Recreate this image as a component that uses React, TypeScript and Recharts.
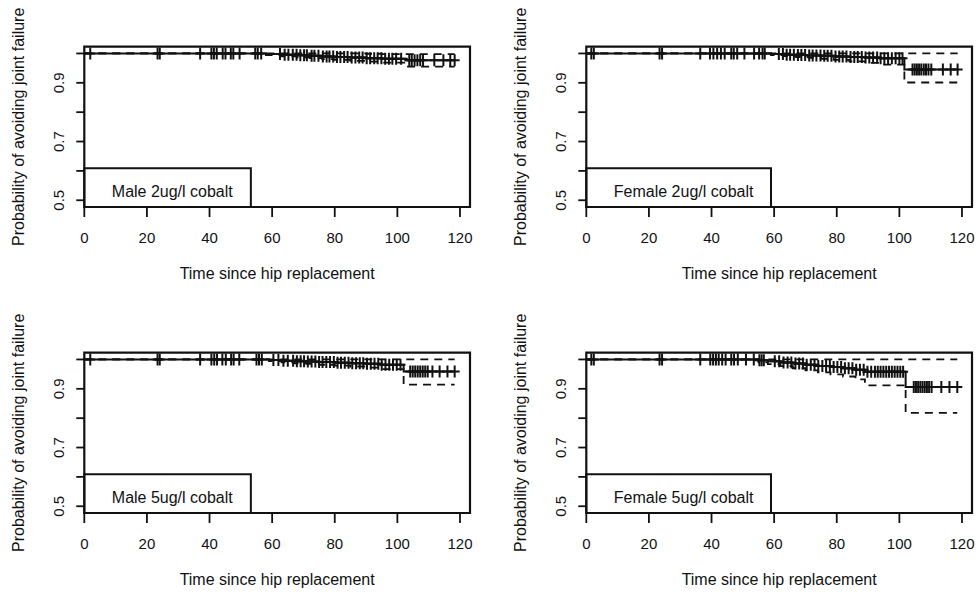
import { ComposedChart, Line, ReferenceArea, Scatter, XAxis, YAxis } from "recharts";

const X_TICKS = [0, 20, 40, 60, 80, 100, 120];
const Y_TICKS = [0.5, 0.6, 0.7, 0.8, 0.9, 1.0];
const Y_LABELED = [0.5, 0.7, 0.9];
const X_DOMAIN: [number, number] = [0, 123.2];
const Y_DOMAIN: [number, number] = [0.477, 1.023];
const X_TITLE = "Time since hip replacement";
const Y_TITLE = "Probability of avoiding joint failure";

// Male 2ug/l cobalt
const male2Times = [0, 58, 63, 68, 72, 76, 80, 85, 90, 95, 103];
const male2Surv = [1, 0.998, 0.996, 0.994, 0.992, 0.99, 0.988, 0.986, 0.984, 0.982, 0.977];
const male2Lower = [1, 0.994, 0.99, 0.987, 0.984, 0.981, 0.978, 0.975, 0.972, 0.969, 0.955];
const male2Upper = [1, 1, 1, 1, 1, 1, 1, 1, 0.999, 0.998, 0.998];
const male2Censored = [
  1.9, 23.4, 24.1, 37, 40.6, 41.4, 42.3, 44.2, 45.1, 46.8, 47.6, 49.6, 54.6, 55.4, 56.5, 62.5, 64, 65.2, 66.6,
  67.8, 69, 70.2, 71.1, 72.6, 73.5, 74.8, 76.2, 77.4, 78.3, 79.5, 80.7, 81.8, 83, 84.1, 85.4, 86.6, 87.8, 88.9,
  90.2, 91.3, 92.6, 93.7, 94.9, 96.1, 97.3, 98.4, 99.6, 101.2, 103.8, 104.6, 105.5, 106.4, 107.3, 108.2, 111.8,
  114.7, 116.9, 118.3,
];

// Female 2ug/l cobalt
const female2Times = [0, 59, 63, 67, 71, 75, 79, 84, 89, 94, 101.6];
const female2Surv = [1, 0.998, 0.996, 0.995, 0.993, 0.992, 0.99, 0.988, 0.986, 0.984, 0.945];
const female2Lower = [1, 0.994, 0.991, 0.988, 0.985, 0.982, 0.978, 0.973, 0.968, 0.962, 0.901];
const female2Upper = [1, 1, 1, 1, 1, 1, 1, 1, 1, 1, 1];
const female2Censored = [
  1.6, 2.4, 23.4, 24.2, 36.4, 39.5, 40.6, 41.8, 43, 44.2, 46.3, 47.1, 48.2, 50.5, 53.6, 55.2, 56.3, 57, 61.5,
  62.8, 64, 65.1, 66.3, 67.6, 68.7, 69.9, 71.2, 72.3, 73.5, 74.8, 76, 77.1, 78.3, 79.6, 80.8, 81.9, 83.1, 84.4,
  85.6, 86.7, 88, 89.2, 90.4, 91.6, 92.9, 94, 95.2, 96.4, 97.6, 98.8, 100, 101, 104.2, 104.9, 105.6, 106.3, 107,
  107.8, 108.5, 109.3, 110.2, 113.9, 116.4, 118.6,
];

// Male 5ug/l cobalt
const male5Times = [0, 59, 63, 67, 71, 75, 80, 85, 90, 95, 102];
const male5Surv = [1, 0.998, 0.996, 0.994, 0.993, 0.991, 0.989, 0.987, 0.985, 0.982, 0.959];
const male5Lower = [1, 0.994, 0.99, 0.987, 0.985, 0.982, 0.979, 0.976, 0.972, 0.967, 0.914];
const male5Upper = [1, 1, 1, 1, 1, 1, 1, 1, 1, 1, 1];
const male5Censored = [
  1.9, 23.4, 24.1, 37, 40.6, 41.5, 42.4, 44.1, 45.2, 46.9, 47.7, 49.5, 55, 55.8, 56.7, 60.4, 62, 63.6, 65,
  66.7, 67.9, 69.1, 70.2, 71.4, 72.6, 73.8, 75, 76.1, 77.3, 78.5, 79.7, 80.9, 82, 83.2, 84.4, 85.6, 86.8, 88,
  89.1, 90.3, 91.5, 92.7, 93.9, 95, 96.2, 97.4, 98.6, 99.8, 101, 104.1, 104.9, 105.7, 106.5, 107.3, 108.1, 108.9,
  109.7, 111.2, 113.5, 116, 118.3,
];

// Female 5ug/l cobalt
const female5Times = [0, 55, 58, 62, 66, 70, 74, 78, 82, 86, 89, 102];
const female5Surv = [1, 0.997, 0.994, 0.99, 0.986, 0.982, 0.978, 0.974, 0.97, 0.965, 0.958, 0.906];
const female5Lower = [1, 0.99, 0.984, 0.977, 0.97, 0.963, 0.956, 0.949, 0.942, 0.932, 0.912, 0.818];
const female5Upper = [1, 1, 1, 1, 1, 1, 1, 1, 1, 1, 1, 1];
const female5Censored = [
  1.6, 2.4, 23.4, 24.2, 36.4, 39.6, 40.5, 41.4, 42.3, 43.4, 44.5, 46.3, 47.2, 48.4, 51, 53.5, 55.3, 56, 56.7,
  60.2, 61.6, 63, 64.3, 65.5, 66.8, 68, 69.2, 70.4, 71.7, 72.9, 74.1, 75.4, 76.6, 77.8, 79, 80.2, 81.4, 82.6,
  83.8, 85, 86.2, 87.4, 88.6, 89.8, 91, 92.2, 93.1, 94, 94.9, 95.8, 96.7, 97.6, 98.5, 99.4, 100.3, 101.2, 104.6,
  105.3, 106, 106.7, 107.4, 108.1, 108.8, 109.5, 110.3, 113.4, 116, 118.5,
];

// chart geometry
const CHART_W = 474;
const CHART_H = 296;
const PLOT_LEFT = 84.3;
const PLOT_TOP = 46.7;
const PLOT_BOTTOM = 207;
const PLOT_RIGHT = 470;
const FONT = '"Liberation Sans", Arial, Helvetica, sans-serif';
const INK = "#111";

type Panel = {
  name: string;
  times: number[];
  surv: number[];
  lower: number[];
  upper: number[];
  censored: number[];
  legendRight: number;
  left: number;
  top: number;
};

const panels: Panel[] = [
  { name: "Male 2ug/l cobalt", times: male2Times, surv: male2Surv, lower: male2Lower, upper: male2Upper, censored: male2Censored, legendRight: 53.2, left: 0, top: 0 },
  { name: "Female 2ug/l cobalt", times: female2Times, surv: female2Surv, lower: female2Lower, upper: female2Upper, censored: female2Censored, legendRight: 59, left: 501.5, top: 0 },
  { name: "Male 5ug/l cobalt", times: male5Times, surv: male5Surv, lower: male5Lower, upper: male5Upper, censored: male5Censored, legendRight: 53.2, left: 0, top: 306 },
  { name: "Female 5ug/l cobalt", times: female5Times, surv: female5Surv, lower: female5Lower, upper: female5Upper, censored: female5Censored, legendRight: 59, left: 501.5, top: 306 },
];

function stepAt(times: number[], values: number[], t: number) {
  let v = values[0];
  for (let i = 0; i < times.length; i++) {
    if (times[i] <= t) v = values[i];
  }
  return v;
}

function stepSeries(times: number[], values: number[], end: number) {
  const rows = times.map((t, i) => ({ t, s: values[i] }));
  rows.push({ t: end, s: values[values.length - 1] });
  return rows;
}

function XTick(props: any) {
  const { x, payload } = props;
  return (
    <text x={x} y={PLOT_BOTTOM + 35.5} textAnchor="middle" fontFamily={FONT} fontSize={15} fill={INK}>
      {payload.value}
    </text>
  );
}

function YTick(props: any) {
  const { y, payload } = props;
  if (!Y_LABELED.includes(payload.value)) return <g />;
  const lx = PLOT_LEFT - 20;
  return (
    <text x={lx} y={y} transform={`rotate(-90, ${lx}, ${y})`} textAnchor="middle" fontFamily={FONT} fontSize={15} fill={INK}>
      {payload.value.toFixed(1)}
    </text>
  );
}

function XTitle() {
  return (
    <text x={(PLOT_LEFT + PLOT_RIGHT) / 2} y={PLOT_BOTTOM + 72} textAnchor="middle" fontFamily={FONT} fontSize={16} fill={INK}>
      {X_TITLE}
    </text>
  );
}

function YTitle() {
  const cy = (PLOT_TOP + PLOT_BOTTOM) / 2;
  const lx = 24.5;
  return (
    <text x={lx} y={cy} transform={`rotate(-90, ${lx}, ${cy})`} textAnchor="middle" fontFamily={FONT} fontSize={16} fill={INK}>
      {Y_TITLE}
    </text>
  );
}

function CensorMark(props: any) {
  const { cx, cy } = props;
  if (cx == null || cy == null) return <g />;
  return <path d={`M${cx - 5},${cy}h10M${cx},${cy - 6}v12`} stroke={INK} strokeWidth={2} fill="none" />;
}

function KMPanel({ panel }: { panel: Panel }) {
  const end = panel.censored[panel.censored.length - 1];
  const survData = stepSeries(panel.times, panel.surv, end);
  const lowerData = stepSeries(panel.times, panel.lower, end);
  const upperData = stepSeries(panel.times, panel.upper, end);
  const marks = panel.censored.map((t) => ({ t, s: stepAt(panel.times, panel.surv, t) }));
  const name = panel.name;

  return (
    <div style={{ position: "absolute", left: panel.left, top: panel.top, width: CHART_W, height: CHART_H }}>
      <ComposedChart
        width={CHART_W}
        height={CHART_H}
        margin={{ top: PLOT_TOP, right: CHART_W - PLOT_RIGHT, bottom: CHART_H - PLOT_BOTTOM - 60, left: PLOT_LEFT - 60 }}
      >
        <XAxis
          type="number"
          dataKey="t"
          domain={X_DOMAIN}
          ticks={X_TICKS}
          allowDataOverflow
          height={60}
          axisLine={false}
          tickSize={10}
          tickMargin={0}
          tickLine={{ stroke: INK, strokeWidth: 1.8 }}
          tick={<XTick />}
          label={<XTitle />}
        />
        <YAxis
          type="number"
          domain={Y_DOMAIN}
          ticks={Y_TICKS}
          allowDataOverflow
          width={60}
          axisLine={false}
          tickSize={8}
          tickMargin={0}
          tickLine={{ stroke: INK, strokeWidth: 1.8 }}
          tick={<YTick />}
          label={<YTitle />}
        />
        <Line data={upperData} dataKey="s" type="stepAfter" stroke={INK} strokeWidth={1.8} strokeDasharray="8 6" dot={false} activeDot={false} isAnimationActive={false} />
        <Line data={lowerData} dataKey="s" type="stepAfter" stroke={INK} strokeWidth={1.8} strokeDasharray="8 6" dot={false} activeDot={false} isAnimationActive={false} />
        <Line data={survData} dataKey="s" type="stepAfter" stroke={INK} strokeWidth={2} dot={false} activeDot={false} isAnimationActive={false} />
        <Scatter data={marks} dataKey="s" shape={<CensorMark />} isAnimationActive={false} />
        <ReferenceArea
          x1={X_DOMAIN[0]}
          x2={panel.legendRight}
          y1={Y_DOMAIN[0]}
          y2={0.609}
          fill="#fff"
          fillOpacity={1}
          stroke={INK}
          strokeWidth={2}
          label={() => (
            <text x={PLOT_LEFT + 27.5} y={PLOT_BOTTOM - 10.5} fontFamily={FONT} fontSize={16} fill={INK}>
              {name}
            </text>
          )}
        />
        <ReferenceArea x1={X_DOMAIN[0]} x2={X_DOMAIN[1]} y1={Y_DOMAIN[0]} y2={Y_DOMAIN[1]} fill="none" stroke={INK} strokeWidth={2.2} />
      </ComposedChart>
    </div>
  );
}

export default function App() {
  return (
    <div style={{ position: "absolute", left: 0, top: 0, width: 976, height: 592, background: "#fff" }}>
      {panels.map((p) => (
        <KMPanel key={p.name} panel={p} />
      ))}
    </div>
  );
}
